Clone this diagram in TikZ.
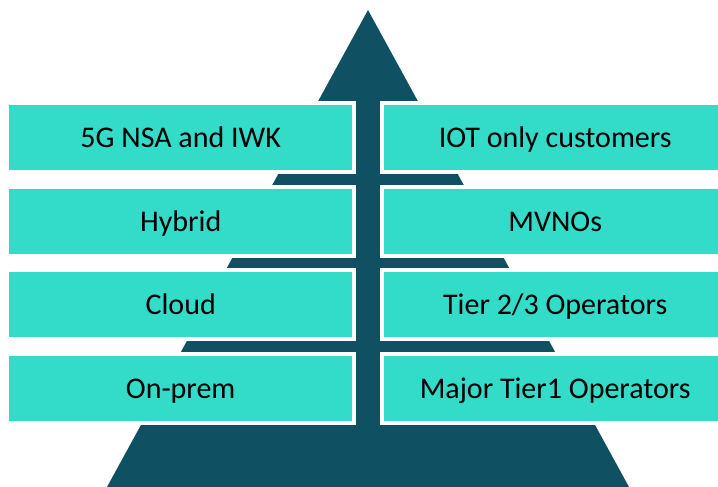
\documentclass[tikz,border=0pt]{standalone}
\usepackage{fontspec}
\setmainfont{Carlito}
\definecolor{darkteal}{HTML}{0F5063}
\definecolor{aqua}{HTML}{33DBC9}
\begin{document}
\begin{tikzpicture}[x=1pt,y=-1pt,
  tier/.style={rectangle,fill=aqua,draw=none,inner sep=0pt,minimum height=65pt,
    text height=20pt,text depth=0pt,
    font=\fontsize{30}{32}\selectfont,text=black},
  gap/.style={fill=white,draw=none}]
\useasboundingbox (0,0) rectangle (718,487);
\clip (0,0) rectangle (718,487);
% pyramid with arrow
\fill[darkteal] (368,10) -- (629,487) -- (107,487) -- cycle;
\foreach \t [count=\i] in {105,189,272,356}{
  \fill[gap] (0,\t-4) rectangle (356,\t+69);
  \fill[gap] (380,\t-4) rectangle (718,\t+69);
}
% left column
\node[tier,minimum width=343pt,anchor=north west] (l1) at (9,105) {5G NSA and IWK};
\node[tier,minimum width=343pt,anchor=north west] (l2) at (9,189) {Hybrid};
\node[tier,minimum width=343pt,anchor=north west] (l3) at (9,272) {Cloud};
\node[tier,minimum width=343pt,anchor=north west] (l4) at (9,356) {On-prem};
% right column
\node[tier,minimum width=342pt,anchor=north west] (r1) at (384,105) {IOT only customers};
\node[tier,minimum width=342pt,anchor=north west] (r2) at (384,189) {MVNOs};
\node[tier,minimum width=342pt,anchor=north west] (r3) at (384,272) {Tier 2/3 Operators};
\node[tier,minimum width=342pt,anchor=north west] (r4) at (384,356) {Major Tier1 Operators};
\end{tikzpicture}
\end{document}
